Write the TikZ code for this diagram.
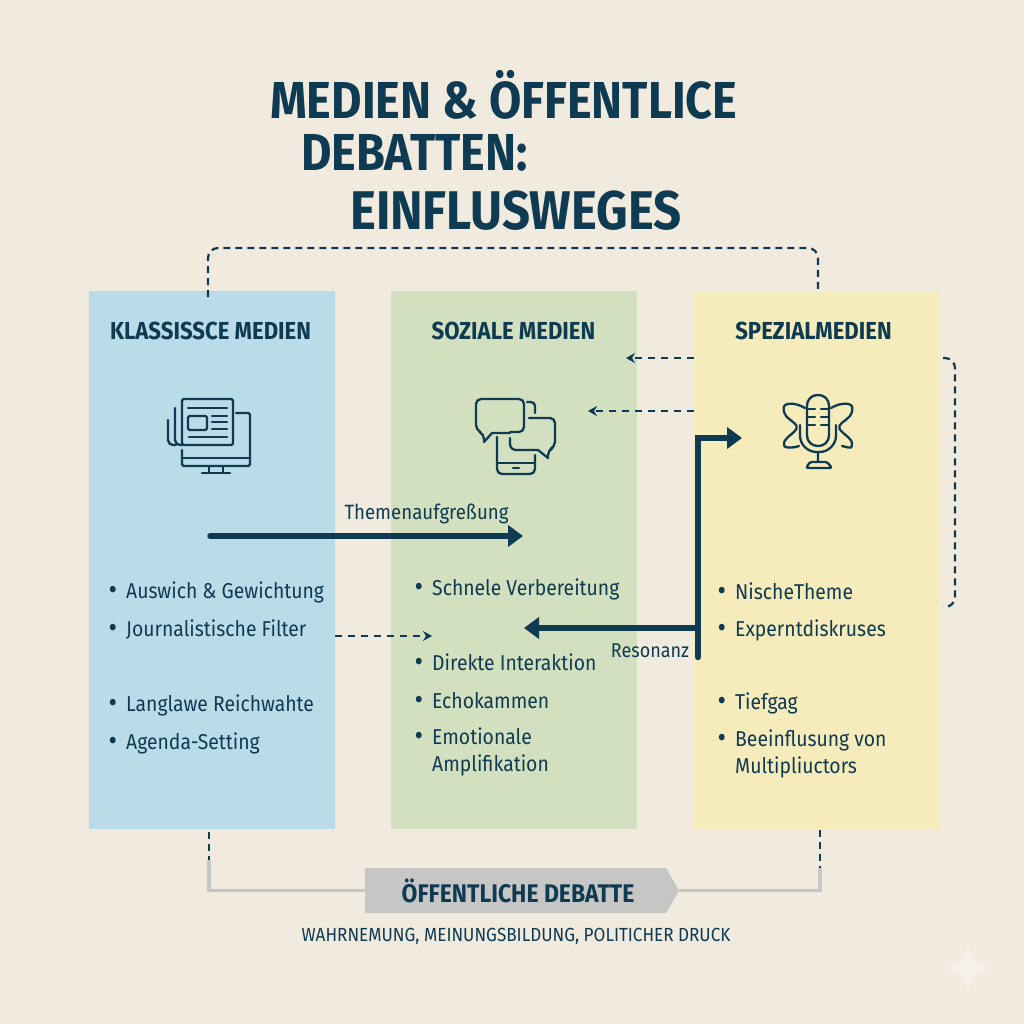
\documentclass[tikz,border=0pt]{standalone}
\usepackage{fontspec}
\setmainfont[FakeStretch=0.9]{Fira Sans}
\usetikzlibrary{arrows.meta,shapes.symbols}
\definecolor{mybg}{HTML}{F1EADF}
\definecolor{mydark}{HTML}{0E3A52}
\definecolor{myblue}{HTML}{BADCE9}
\definecolor{mygreen}{HTML}{D3E0C0}
\definecolor{myyellow}{HTML}{F6EBBA}
\definecolor{mygray}{HTML}{C6C6C4}
\newcommand{\bul}{\llap{\raisebox{-1pt}{\scalebox{1.35}{\textbullet}}\hspace{9pt}}}
\tikzset{
  panel/.style={minimum width=246pt,minimum height=538pt,inner sep=0pt},
  panelhead/.style={font=\fontsize{24.6}{24}\bfseries,text=mydark,inner sep=0pt},
  titleline/.style={font=\fontsize{52}{52}\bfseries,text=mydark,anchor=west,inner sep=0pt},
  itemtext/.style={font=\fontsize{21.5}{27}\selectfont,text=mydark,anchor=west,inner sep=0pt,align=left},
  smalltext/.style={font=\fontsize{19}{20}\selectfont,text=mydark,inner sep=0pt},
  bigarrow/.style={draw=mydark,line width=5.5pt,-{Triangle[length=15pt,width=21pt]}},
  dasharrow/.style={draw=mydark,line width=1.6pt,dash pattern=on 7pt off 6pt,-{Stealth[length=9pt,width=10pt]}},
  dashlink/.style={draw=mydark,line width=2.2pt,dash pattern=on 7pt off 5pt,rounded corners=10pt},
  graylink/.style={draw=mygray,line width=3.5pt},
  icon/.style={draw=mydark,line width=2.3pt,line cap=round,line join=round,rounded corners=1.5pt}
}
\begin{document}
\begin{tikzpicture}[x=1pt,y=-1pt]
  \useasboundingbox (0,0) rectangle (1024,1024);
  \fill[mybg] (0,0) rectangle (1024,1024);
  % title
  \node[titleline] (title1) at (270,95) {MEDIEN \& ÖFFENTLICE};
  \node[titleline] (title2) at (301,153) {DEBATTEN:};
  \node[titleline,font=\fontsize{54.5}{54}\bfseries] (title3) at (350,211) {EINFLUSWEGES};
  % panels
  \node[panel,fill=myblue] (klassisch) at (212,560) {};
  \node[panel,fill=mygreen] (sozial) at (514,560) {};
  \node[panel,fill=myyellow] (spezial) at (817,560) {};
  \node[panelhead] (klassischhead) at (210.5,331) {KLASSISSCE MEDIEN};
  \node[panelhead] (sozialhead) at (513.5,331) {SOZIALE MEDIEN};
  \node[panelhead] (spezialhead) at (813.5,331) {SPEZIALMEDIEN};
  % top and right dashed links
  \coordinate (topleft) at (208,297);
  \coordinate (topright) at (818,291);
  \draw[dashlink] (topleft) -- (208,248) -- (818,248) -- (topright);
  \coordinate (loopa) at (943,358);
  \coordinate (loopb) at (943,607);
  \draw[dashlink] (loopa) -- (955,358) -- (955,607) -- (loopb);
  % items left
  \node[itemtext] (k1) at (126,592) {\bul Auswich \& Gewichtung};
  \node[itemtext] (k2) at (126,630) {\bul Journalistische Filter};
  \node[itemtext] (k3) at (126,705) {\bul Langlawe Reichwahte};
  \node[itemtext] (k4) at (126,743) {\bul Agenda-Setting};
  % items middle
  \node[itemtext] (s1) at (432,589) {\bul Schnele Verbereitung};
  \node[itemtext] (s2) at (432,663) {\bul Direkte Interaktion};
  \node[itemtext] (s3) at (432,701) {\bul Echokammen};
  \node[itemtext] (s4) at (432,752) {\bul Emotionale\\Amplifikation};
  % items right
  \node[itemtext] (p1) at (735,592) {\bul NischeTheme};
  \node[itemtext] (p2) at (735,630) {\bul Experntdiskruses};
  \node[itemtext] (p3) at (735,703) {\bul Tiefgag};
  \node[itemtext] (p4) at (735,754) {\bul Beeinflusung von\\Multipliuctors};
  % main arrows
  \coordinate (themastart) at (210,536);
  \coordinate (themaend) at (523,536);
  \draw[bigarrow,line cap=round] (themastart) -- (themaend);
  \node[smalltext,font=\fontsize{20.7}{20}\selectfont] (themalabel) at (426.5,513.5) {Themenaufgreßung};
  \coordinate (resostart) at (698,628);
  \coordinate (resoend) at (524,628);
  \draw[bigarrow] (resostart) -- (resoend);
  \node[smalltext,font=\fontsize{20}{20}\selectfont] (resolabel) at (650,651) {Resonanz};
  \coordinate (elbowstart) at (698,657);
  \coordinate (elbowend) at (742,438);
  \draw[bigarrow,line width=6.5pt,line cap=round] (elbowstart) -- (698,438) -- (elbowend);
  % dashed arrows
  \coordinate (sa) at (694,358);
  \coordinate (sb) at (626,358);
  \draw[dasharrow] (sa) -- (sb);
  \coordinate (sc) at (694,411);
  \coordinate (sd) at (588,411);
  \draw[dasharrow] (sc) -- (sd);
  \coordinate (se) at (335,636);
  \coordinate (sf) at (432,636);
  \draw[dasharrow] (se) -- (sf);
  % debate box
  \node[signal,signal to=east,signal pointer angle=120,fill=mygray,minimum width=314pt,minimum height=45pt,inner sep=0pt] (debatte) at (515.5,890.5) {};
  \node[font=\fontsize{25.5}{25}\bfseries,text=mydark,inner sep=0pt] (debattetext) at (518,891) {ÖFFENTLICHE DEBATTE};
  \node[smalltext] (debattesub) at (516,936.5) {WAHRNEMUNG, MEINUNGSBILDUNG, POLITICHER DRUCK};
  \coordinate (botleft) at (209,860);
  \coordinate (botright) at (820,868);
  \draw[graylink] (botleft) |- (debatte.west);
  \draw[graylink] (botright) |- (debatte.east);
  \draw[dashlink] (209,832) -- (botleft);
  \draw[dashlink] (820,830) -- (botright);
  % newspaper icon
  \draw[icon] (182,399) rectangle (233,445);
  \draw[icon,rounded corners=5pt] (175,408) -- (175,445) -- (182,445);
  \draw[icon,rounded corners=5pt] (168,420) -- (168,445) -- (176,445);
  \draw[icon] (188,408) -- (227,408);
  \draw[icon] (188,416) rectangle (207,430);
  \draw[icon] (212,416) -- (227,416) (212,422) -- (227,422) (212,429) -- (227,429);
  \draw[icon] (189,437) -- (227,437);
  \draw[icon] (236,413) -- (250,413) -- (250,466) -- (182,466) -- (182,450);
  \draw[icon] (182,458) -- (250,458);
  \draw[icon] (209,467) -- (209,473) (223,467) -- (223,473) (202,473) -- (230,473);
  % chat icon
  \draw[icon,rounded corners=5pt] (510,432) -- (524,432) -- (524,399) -- (476,399) -- (476,430) -- (484,434) [sharp corners] -- (484,442) -- (492,433) [rounded corners=1pt] -- (510,433);
  \draw[icon,rounded corners=4pt] (527,402) -- (535,402) -- (535,413);
  \draw[icon,rounded corners=5pt] (529,418) -- (555,418) -- (555,447) -- (548,450) [sharp corners] -- (548,458) -- (538,450) [rounded corners=6pt] -- (510,450) -- (510,438);
  \draw[icon,rounded corners=5pt] (497,437) -- (497,474) -- (535,474) -- (535,455);
  \draw[icon] (497,463) -- (535,463) (513,468) -- (519,468);
  % microphone icon
  \draw[icon,rounded corners=10.5pt] (807,395) rectangle (829,446);
  \draw[icon] (807,409) -- (815,409) (821,409) -- (829,409) (807,417) -- (815,417) (821,417) -- (829,417) (807,425) -- (815,425) (821,425) -- (829,425);
  \draw[icon] (800,425) -- (800,434) .. controls (800,445) and (808,452) .. (818,452) .. controls (828,452) and (836,445) .. (836,434) -- (836,425);
  \draw[icon] (818,452) -- (818,462) (810,462) -- (827,462) -- (832,468) -- (806,468) -- cycle;
  \draw[icon] (805,408) .. controls (795,402) and (782,402) .. (784,411) .. controls (785,418) and (795,422) .. (797,427) .. controls (795,433) and (784,438) .. (784,445) .. controls (785,448) and (795,448) .. (799,446);
  \draw[icon] (831,408) .. controls (841,402) and (854,402) .. (852,411) .. controls (851,418) and (841,422) .. (839,427) .. controls (841,433) and (852,438) .. (852,445) .. controls (851,449) and (847,447) .. (842,446);
  % sparkle
  \fill[white,opacity=0.35] (968,943) .. controls (970,958) and (978,966) .. (993,968) .. controls (978,970) and (970,978) .. (968,993) .. controls (966,978) and (958,970) .. (943,968) .. controls (958,966) and (966,958) .. (968,943) -- cycle;
\end{tikzpicture}
\end{document}
